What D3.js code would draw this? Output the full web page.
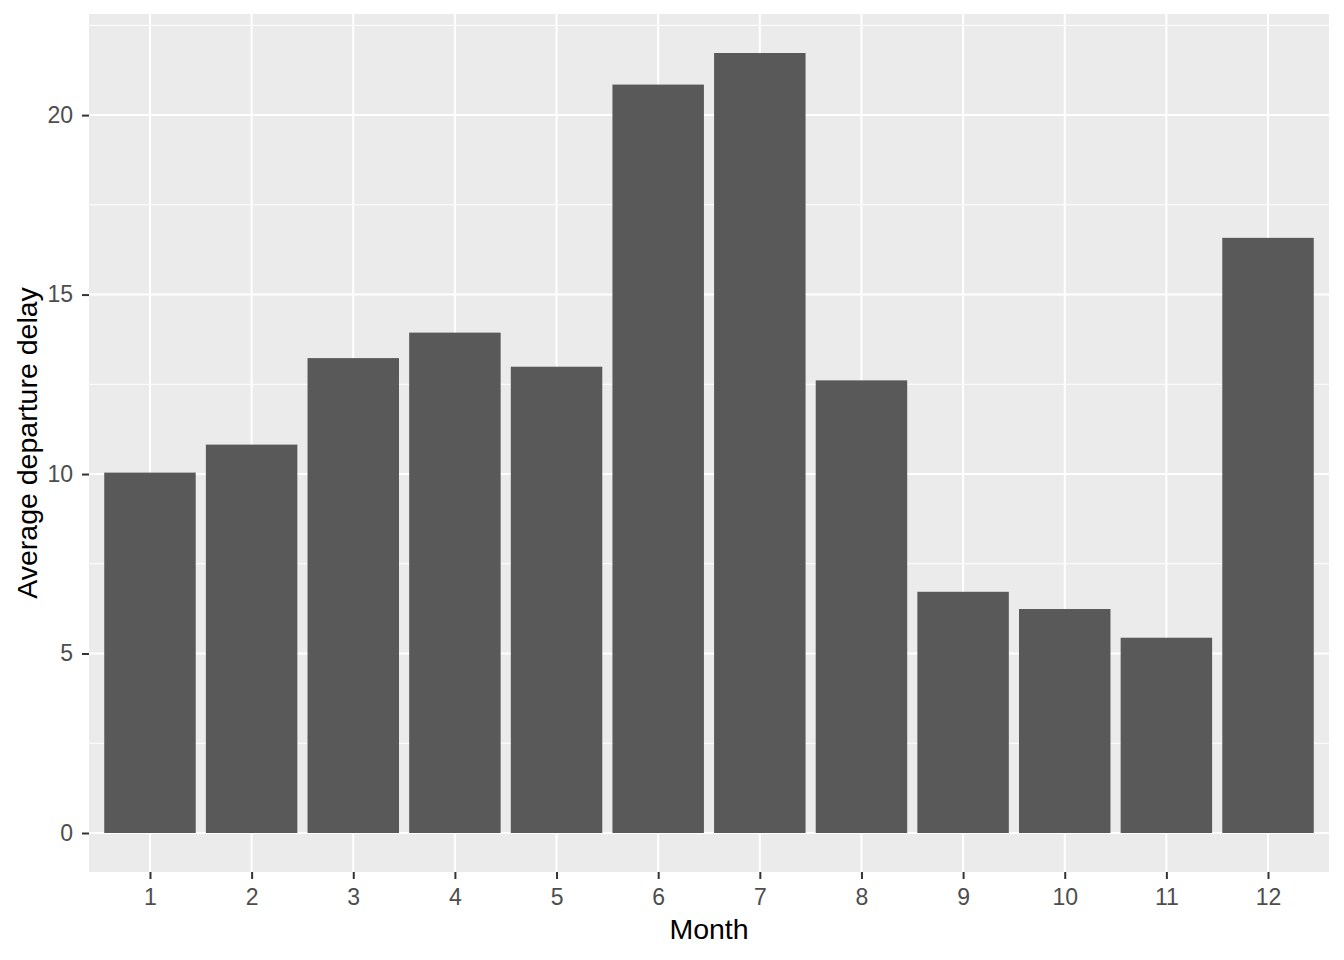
<!DOCTYPE html>
<html><head><meta charset="utf-8">
<script src="https://cdn.jsdelivr.net/npm/d3@7"></script>
<style>body{margin:0;background:#fff}svg{display:block}text{font-family:"Liberation Sans",Arial,sans-serif}</style>
</head><body>
<script>
const months = ["1","2","3","4","5","6","7","8","9","10","11","12"];
const delays = [10.04, 10.82, 13.23, 13.94, 12.99, 20.85, 21.73, 12.61, 6.72, 6.24, 5.44, 16.58];
const yTicks = [0, 5, 10, 15, 20];
const yMinor = [2.5, 7.5, 12.5, 17.5, 22.5];

const W = 1344, H = 960;
const L = 89, R = 1329, T = 14, B = 872;
const svg = d3.select("body").append("svg").attr("width", W).attr("height", H);

const maxV = d3.max(delays);
const pad = maxV * 0.05;
const y = d3.scaleLinear().domain([-pad, maxV + pad]).range([B, T]);
const step = (R - L) / (months.length - 1 + 1.2);
const x = d3.scalePoint().domain(months).range([L + 0.6 * step, R - 0.6 * step]);
const bw = step * 0.9;

svg.append("rect").attr("x", L).attr("y", T).attr("width", R - L).attr("height", B - T).attr("fill", "#ebebeb");

const g = svg.append("g");
g.selectAll(".minor").data(yMinor).join("line")
  .attr("x1", L).attr("x2", R).attr("y1", d => y(d)).attr("y2", d => y(d))
  .attr("stroke", "#fff").attr("stroke-width", 1);
g.selectAll(".majy").data(yTicks).join("line")
  .attr("x1", L).attr("x2", R).attr("y1", d => y(d)).attr("y2", d => y(d))
  .attr("stroke", "#fff").attr("stroke-width", 2);
g.selectAll(".majx").data(months).join("line")
  .attr("y1", T).attr("y2", B).attr("x1", d => x(d)).attr("x2", d => x(d))
  .attr("stroke", "#fff").attr("stroke-width", 2);

svg.selectAll(".bar").data(months).join("rect")
  .attr("x", d => x(d) - bw / 2).attr("width", bw)
  .attr("y", (d, i) => y(delays[i])).attr("height", (d, i) => y(0) - y(delays[i]))
  .attr("fill", "#595959");

const yAxis = d3.axisLeft(y).tickValues(yTicks).tickSize(7).tickPadding(9);
const ya = svg.append("g").attr("transform", `translate(${L},0)`).call(yAxis);
ya.select(".domain").remove();
ya.selectAll("line").attr("stroke", "#333").attr("stroke-width", 2);
ya.selectAll("text").attr("fill", "#4d4d4d").style("font-size", "23px");

const xAxis = d3.axisBottom(x).tickSize(7).tickPadding(10);
const xa = svg.append("g").attr("transform", `translate(0,${B})`).call(xAxis);
xa.select(".domain").remove();
xa.selectAll("line").attr("stroke", "#333").attr("stroke-width", 2);
xa.selectAll("text").attr("fill", "#4d4d4d").style("font-size", "23px");

svg.append("text").attr("x", (L + R) / 2).attr("y", 939).attr("text-anchor", "middle")
  .style("font-size", "28.5px").attr("fill", "#000").text("Month");
svg.append("text").attr("transform", `translate(37,${(T + B) / 2}) rotate(-90)`).attr("text-anchor", "middle")
  .style("font-size", "28.5px").attr("fill", "#000").text("Average departure delay");
</script>
</body></html>
